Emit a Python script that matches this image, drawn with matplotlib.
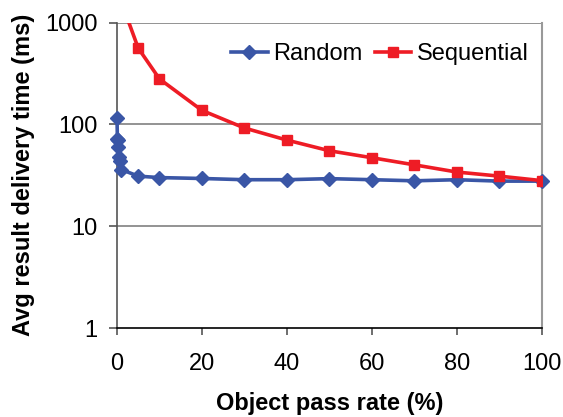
import numpy as np
import matplotlib
matplotlib.use("Agg")
from matplotlib import pyplot as plt

# pass rate (%) and average delivery time (ms)
rand_x = [0, 0.1, 0.2, 0.3, 0.5, 0.7, 1, 5, 10, 20, 30, 40, 50, 60, 70, 80, 90, 100]
rand_y = [115, 72, 70, 60, 48, 44, 36, 31, 30, 29.4, 28.6, 28.6, 29.3, 28.6, 27.9, 28.6, 27.7, 27.7]

seq_x = [1, 5, 10, 20, 30, 40, 50, 60, 70, 80, 90, 100]
seq_y = [1600, 560, 279, 137, 92, 70, 55, 47, 40, 34, 31, 28]

xticks = [0, 20, 40, 60, 80, 100]
yticks = [1, 10, 100, 1000]

plt.rcParams["font.family"] = ["Liberation Sans", "DejaVu Sans"]

fig = plt.figure(figsize=(5.63, 4.17), dpi=100)
ax = fig.add_axes([0.2078, 0.2134, 0.7549, 0.7326])

ax.plot(rand_x, rand_y, color="#3A56A6", lw=2.6, marker="D", markersize=7.5,
        label="Random", clip_on=False, zorder=3)
ax.plot(seq_x, seq_y, color="#EE1C25", lw=2.6, marker="s", markersize=7.5,
        label="Sequential", zorder=4)

ax.set_yscale("log")
ax.set_ylim(1, 1000)
ax.set_xlim(0, 100)
ax.set_yticks(yticks)
ax.set_yticklabels([str(t) for t in yticks])
ax.minorticks_off()
ax.set_xticks(xticks)

for t in [10, 100, 1000]:
    ax.axhline(t, color="#808080", lw=1.2, zorder=1)

ax.spines["top"].set_visible(False)
ax.spines["right"].set_color("#999999")
ax.spines["right"].set_linewidth(1.5)
ax.spines["left"].set_color("#555555")
ax.spines["left"].set_linewidth(1.2)
ax.spines["bottom"].set_color("black")
ax.spines["bottom"].set_linewidth(1.2)

ax.tick_params(axis="y", length=6, width=1.2, pad=8, labelsize=17, color="#555555")
ax.tick_params(axis="x", length=5, width=1.2, pad=13, labelsize=17, color="#555555")

ax.set_xlabel("Object pass rate (%)", fontsize=17, fontweight="bold", labelpad=12)
ax.set_ylabel("Avg result delivery time (ms)", fontsize=17, fontweight="bold", labelpad=7)

ax.legend(loc="upper right", bbox_to_anchor=(1.0, 0.975), ncol=2, frameon=False,
          fontsize=17, handlelength=1.55, handletextpad=0.25, columnspacing=0.5,
          borderaxespad=0.15)

fig.savefig("out.png", dpi=100)
